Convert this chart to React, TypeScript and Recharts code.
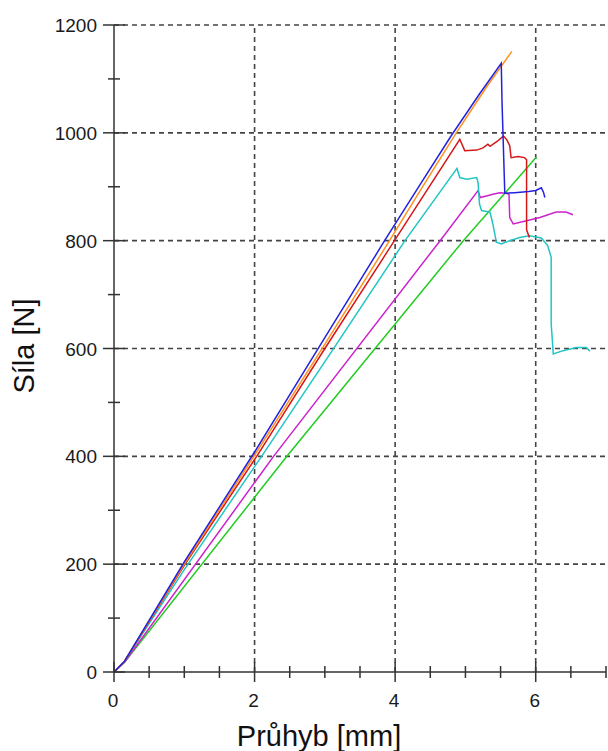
import React from "react";
import { Line, LineChart, ReferenceLine, XAxis, YAxis } from "recharts";

// deflection d [mm], force f [N]
const sampleGreen = [
  { d: 0, f: 0 },
  { d: 0.15, f: 18 },
  { d: 2.46, f: 400 },
  { d: 4.97, f: 800 },
  { d: 6.01, f: 955 },
];

const sampleMagenta = [
  { d: 0, f: 0 },
  { d: 0.15, f: 18 },
  { d: 2.27, f: 400 },
  { d: 4.64, f: 800 },
  { d: 5.18, f: 893 },
  { d: 5.21, f: 880 },
  { d: 5.3, f: 883 },
  { d: 5.39, f: 886 },
  { d: 5.49, f: 889 },
  { d: 5.58, f: 888 },
  { d: 5.62, f: 886 },
  { d: 5.63, f: 843 },
  { d: 5.68, f: 831 },
  { d: 5.87, f: 837 },
  { d: 6.06, f: 843 },
  { d: 6.29, f: 853 },
  { d: 6.43, f: 853 },
  { d: 6.53, f: 848 },
];

const sampleCyan = [
  { d: 0, f: 0 },
  { d: 0.15, f: 20 },
  { d: 1, f: 190 },
  { d: 2.1, f: 400 },
  { d: 3.1, f: 595 },
  { d: 4.14, f: 800 },
  { d: 4.88, f: 934 },
  { d: 4.92, f: 917 },
  { d: 5.02, f: 914 },
  { d: 5.16, f: 917 },
  { d: 5.18, f: 908 },
  { d: 5.2, f: 868 },
  { d: 5.23, f: 856 },
  { d: 5.35, f: 853 },
  { d: 5.39, f: 831 },
  { d: 5.44, f: 797 },
  { d: 5.51, f: 794 },
  { d: 5.63, f: 800 },
  { d: 5.77, f: 806 },
  { d: 5.91, f: 809 },
  { d: 6.08, f: 805 },
  { d: 6.17, f: 791 },
  { d: 6.22, f: 769 },
  { d: 6.22, f: 646 },
  { d: 6.25, f: 590 },
  { d: 6.39, f: 596 },
  { d: 6.58, f: 602 },
  { d: 6.72, f: 602 },
  { d: 6.77, f: 595 },
];

const sampleRed = [
  { d: 0, f: 0 },
  { d: 0.15, f: 20 },
  { d: 1, f: 198 },
  { d: 2.03, f: 400 },
  { d: 3, f: 600 },
  { d: 3.99, f: 800 },
  { d: 4.92, f: 988 },
  { d: 4.99, f: 967 },
  { d: 5.16, f: 968 },
  { d: 5.25, f: 972 },
  { d: 5.32, f: 979 },
  { d: 5.35, f: 975 },
  { d: 5.45, f: 984 },
  { d: 5.54, f: 994 },
  { d: 5.59, f: 987 },
  { d: 5.63, f: 976 },
  { d: 5.65, f: 954 },
  { d: 5.75, f: 956 },
  { d: 5.84, f: 954 },
  { d: 5.87, f: 950 },
  { d: 5.87, f: 820 },
  { d: 5.91, f: 806 },
];

const sampleOrange = [
  { d: 0, f: 0 },
  { d: 0.15, f: 20 },
  { d: 1, f: 200 },
  { d: 2, f: 402 },
  { d: 3, f: 608 },
  { d: 3.92, f: 800 },
  { d: 4.4, f: 902 },
  { d: 4.87, f: 1000 },
  { d: 5.3, f: 1085 },
  { d: 5.66, f: 1151 },
];

const sampleBlue = [
  { d: 0, f: 0 },
  { d: 0.15, f: 20 },
  { d: 1, f: 204 },
  { d: 2, f: 408 },
  { d: 3, f: 620 },
  { d: 3.85, f: 800 },
  { d: 4.35, f: 903 },
  { d: 4.8, f: 995 },
  { d: 5.2, f: 1072 },
  { d: 5.51, f: 1129 },
  { d: 5.52, f: 1060 },
  { d: 5.56, f: 888 },
  { d: 5.7, f: 889 },
  { d: 5.9, f: 891 },
  { d: 6.0, f: 893 },
  { d: 6.08, f: 898 },
  { d: 6.11, f: 890 },
  { d: 6.13, f: 880 },
];

const xTicks = [0, 0.5, 1, 1.5, 2, 2.5, 3, 3.5, 4, 4.5, 5, 5.5, 6, 6.5, 7];
const yTicks = [0, 100, 200, 300, 400, 500, 600, 700, 800, 900, 1000, 1100, 1200];
const xGrid = [2, 4, 6];
const yGrid = [200, 400, 600, 800, 1000, 1200];

const series = [
  { name: "green", data: sampleGreen, color: "#22cc22" },
  { name: "magenta", data: sampleMagenta, color: "#cc22cc" },
  { name: "cyan", data: sampleCyan, color: "#22c4c4" },
  { name: "red", data: sampleRed, color: "#d41818" },
  { name: "orange", data: sampleOrange, color: "#ff9020" },
  { name: "blue", data: sampleBlue, color: "#2222dd" },
];

const AXIS = "#333333";
const GRID = "#444444";
const FONT = "'Liberation Sans', Arial, sans-serif";

const XTick = (props: any) => {
  const { x, y, payload } = props;
  const v = payload.value;
  const major = v % 2 === 0;
  const h = major ? 10 : 6;
  return (
    <g>
      <line x1={x} x2={x} y1={y - h} y2={y + h} stroke={AXIS} strokeWidth={1.5} />
      {major && (
        <text x={x - 1} y={y + 35} textAnchor="middle" fontSize={19} fontFamily={FONT} fill="#1a1a1a">
          {v}
        </text>
      )}
    </g>
  );
};

const YTick = (props: any) => {
  const { x, y, payload } = props;
  const v = payload.value;
  const major = v % 200 === 0;
  const w = major ? 11 : 6;
  return (
    <g>
      <line x1={x - w} x2={x + w} y1={y} y2={y} stroke={AXIS} strokeWidth={1.5} />
      {major && (
        <text x={x - 17} y={y + 7} textAnchor="end" fontSize={19} fontFamily={FONT} fill="#1a1a1a">
          {v}
        </text>
      )}
    </g>
  );
};

export default function App() {
  return (
    <div style={{ position: "absolute", left: 0, top: 0, background: "#fff" }}>
      <LineChart width={608} height={751} margin={{ top: 25, right: 2, bottom: 0, left: 0 }}>
        {yGrid.map((v) => (
          <ReferenceLine key={`y${v}`} y={v} stroke={GRID} strokeWidth={1.6} strokeDasharray="5 4" />
        ))}
        {xGrid.map((v) => (
          <ReferenceLine key={`x${v}`} x={v} stroke={GRID} strokeWidth={1.6} strokeDasharray="5 4" />
        ))}
        <XAxis
          type="number"
          dataKey="d"
          domain={[0, 7]}
          ticks={xTicks}
          interval={0}
          height={79}
          tickSize={0}
          tickMargin={0}
          tickLine={false}
          tick={<XTick />}
          stroke={AXIS}
          strokeWidth={1.5}
          allowDataOverflow
          label={{
            content: () => (
              <text x={319} y={746} textAnchor="middle" fontSize={29} fontFamily={FONT} fill="#111">
                Průhyb [mm]
              </text>
            ),
          }}
        />
        <YAxis
          type="number"
          dataKey="f"
          domain={[0, 1200]}
          ticks={yTicks}
          interval={0}
          width={114}
          tickSize={0}
          tickMargin={0}
          tickLine={false}
          tick={<YTick />}
          stroke={AXIS}
          strokeWidth={1.5}
          allowDataOverflow
          label={{
            content: () => (
              <text
                x={34}
                y={346}
                transform="rotate(-90 34 346)"
                textAnchor="middle"
                fontSize={29}
                fontFamily={FONT}
                fill="#111"
              >
                Síla [N]
              </text>
            ),
          }}
        />
        {series.map((s) => (
          <Line
            key={s.name}
            data={s.data}
            dataKey="f"
            type="linear"
            stroke={s.color}
            strokeWidth={1.5}
            dot={false}
            isAnimationActive={false}
          />
        ))}
      </LineChart>
    </div>
  );
}
